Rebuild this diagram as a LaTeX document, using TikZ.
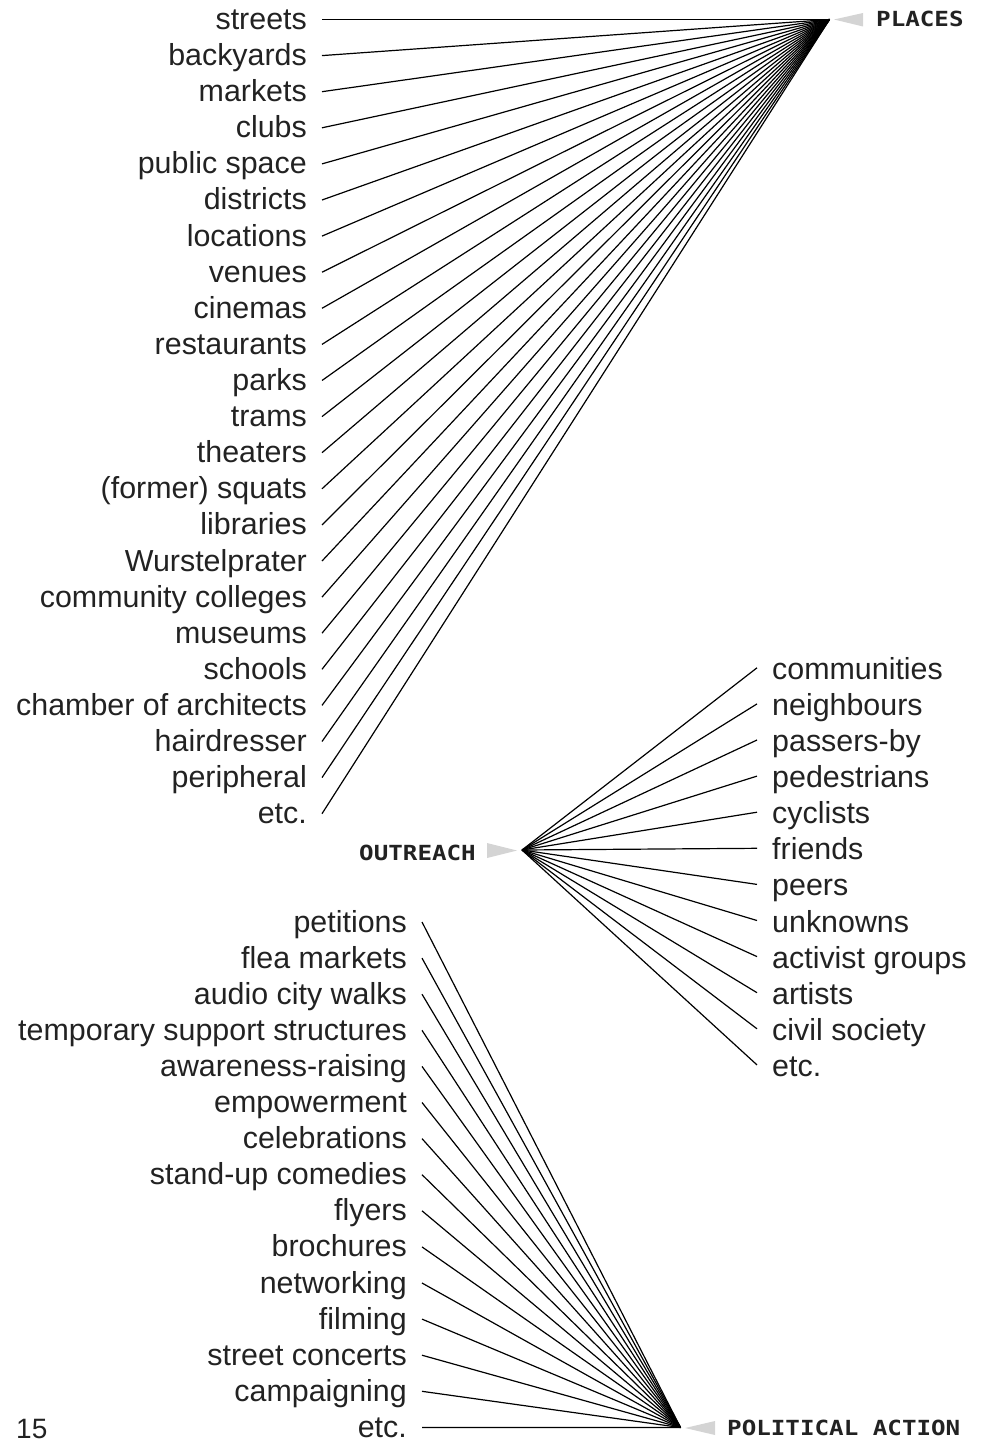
\documentclass[tikz,border=0pt]{standalone}
\usepackage{fontspec}
\setmainfont{Liberation Sans}
\newfontfamily\labelmono{DejaVu Sans Mono}
\definecolor{txt}{HTML}{222222}
\definecolor{tri}{HTML}{D4D4D4}
\newcommand{\hubtext}[1]{\scalebox{1}[0.86]{#1}}
\begin{document}
\begin{tikzpicture}[x=1pt,y=-1pt,
  item/.style={inner sep=0pt, font=\fontsize{30.4}{36}\selectfont, text=txt},
  hublabel/.style={inner sep=0pt, font=\labelmono\bfseries\fontsize{24.2}{28}\selectfont, text=txt},
  link/.style={line width=1.2pt, draw=black},
  wedge/.style={fill=tri}]
\useasboundingbox (0,0) rectangle (989,1442);
% hubs
\coordinate (placeshub) at (829.5,19.5);
\coordinate (outhub) at (522,850);
\coordinate (polhub) at (680.5,1427.5);
% places
\foreach \t [count=\i from 0] in {streets, backyards, markets, clubs, public space, districts, locations, venues, cinemas, restaurants, parks, trams, theaters, (former) squats, libraries, Wurstelprater, community colleges, museums, schools, chamber of architects, hairdresser, peripheral, etc.}{
  \pgfmathsetmacro\yy{19.5+36.1*\i}
  \node[item, anchor=base east] (p\i) at (307,\yy+10) {\t};
  \coordinate (ps\i) at (322,\yy);
  \draw[link] (ps\i) -- (placeshub);
}
% outreach
\foreach \t [count=\i from 18] in {communities, neighbours, passers-by, pedestrians, cyclists, friends, peers, unknowns, activist groups, artists, civil society, etc.}{
  \pgfmathsetmacro\yy{19.5+36.1*\i}
  \node[item, anchor=base west] (o\i) at (772,\yy+10) {\t};
  \coordinate (oe\i) at (757,\yy-1.5);
  \draw[link] (outhub) -- (oe\i);
}
% political action
\foreach \t [count=\i from 25] in {petitions, flea markets, audio city walks, temporary support structures, awareness-raising, empowerment, celebrations, stand-up comedies, flyers, brochures, networking, filming, street concerts, campaigning, etc.}{
  \pgfmathsetmacro\yy{19.5+36.1*\i}
  \node[item, anchor=base east] (a\i) at (407,\yy+10) {\t};
  \coordinate (as\i) at (422,\yy);
  \draw[link] (as\i) -- (polhub);
}
% grey wedges
\fill[wedge] (834,19.5) -- (863,13) -- (863,26.5) -- cycle;
\fill[wedge] (517,850.5) -- (487,843) -- (487,858) -- cycle;
\fill[wedge] (685,1428) -- (715,1421) -- (715,1435) -- cycle;
% hub labels
\node[hublabel, anchor=base west] (places) at (876,26.5) {\hubtext{PLACES}};
\node[hublabel, anchor=base east] (outreach) at (476,860) {\hubtext{OUTREACH}};
\node[hublabel, anchor=base west] (political) at (727,1435) {\hubtext{POLITICAL ACTION}};
% page number
\node[item, font=\fontsize{28}{32}\selectfont, anchor=base west] (pagenum) at (16,1438.5) {15};
\end{tikzpicture}
\end{document}
